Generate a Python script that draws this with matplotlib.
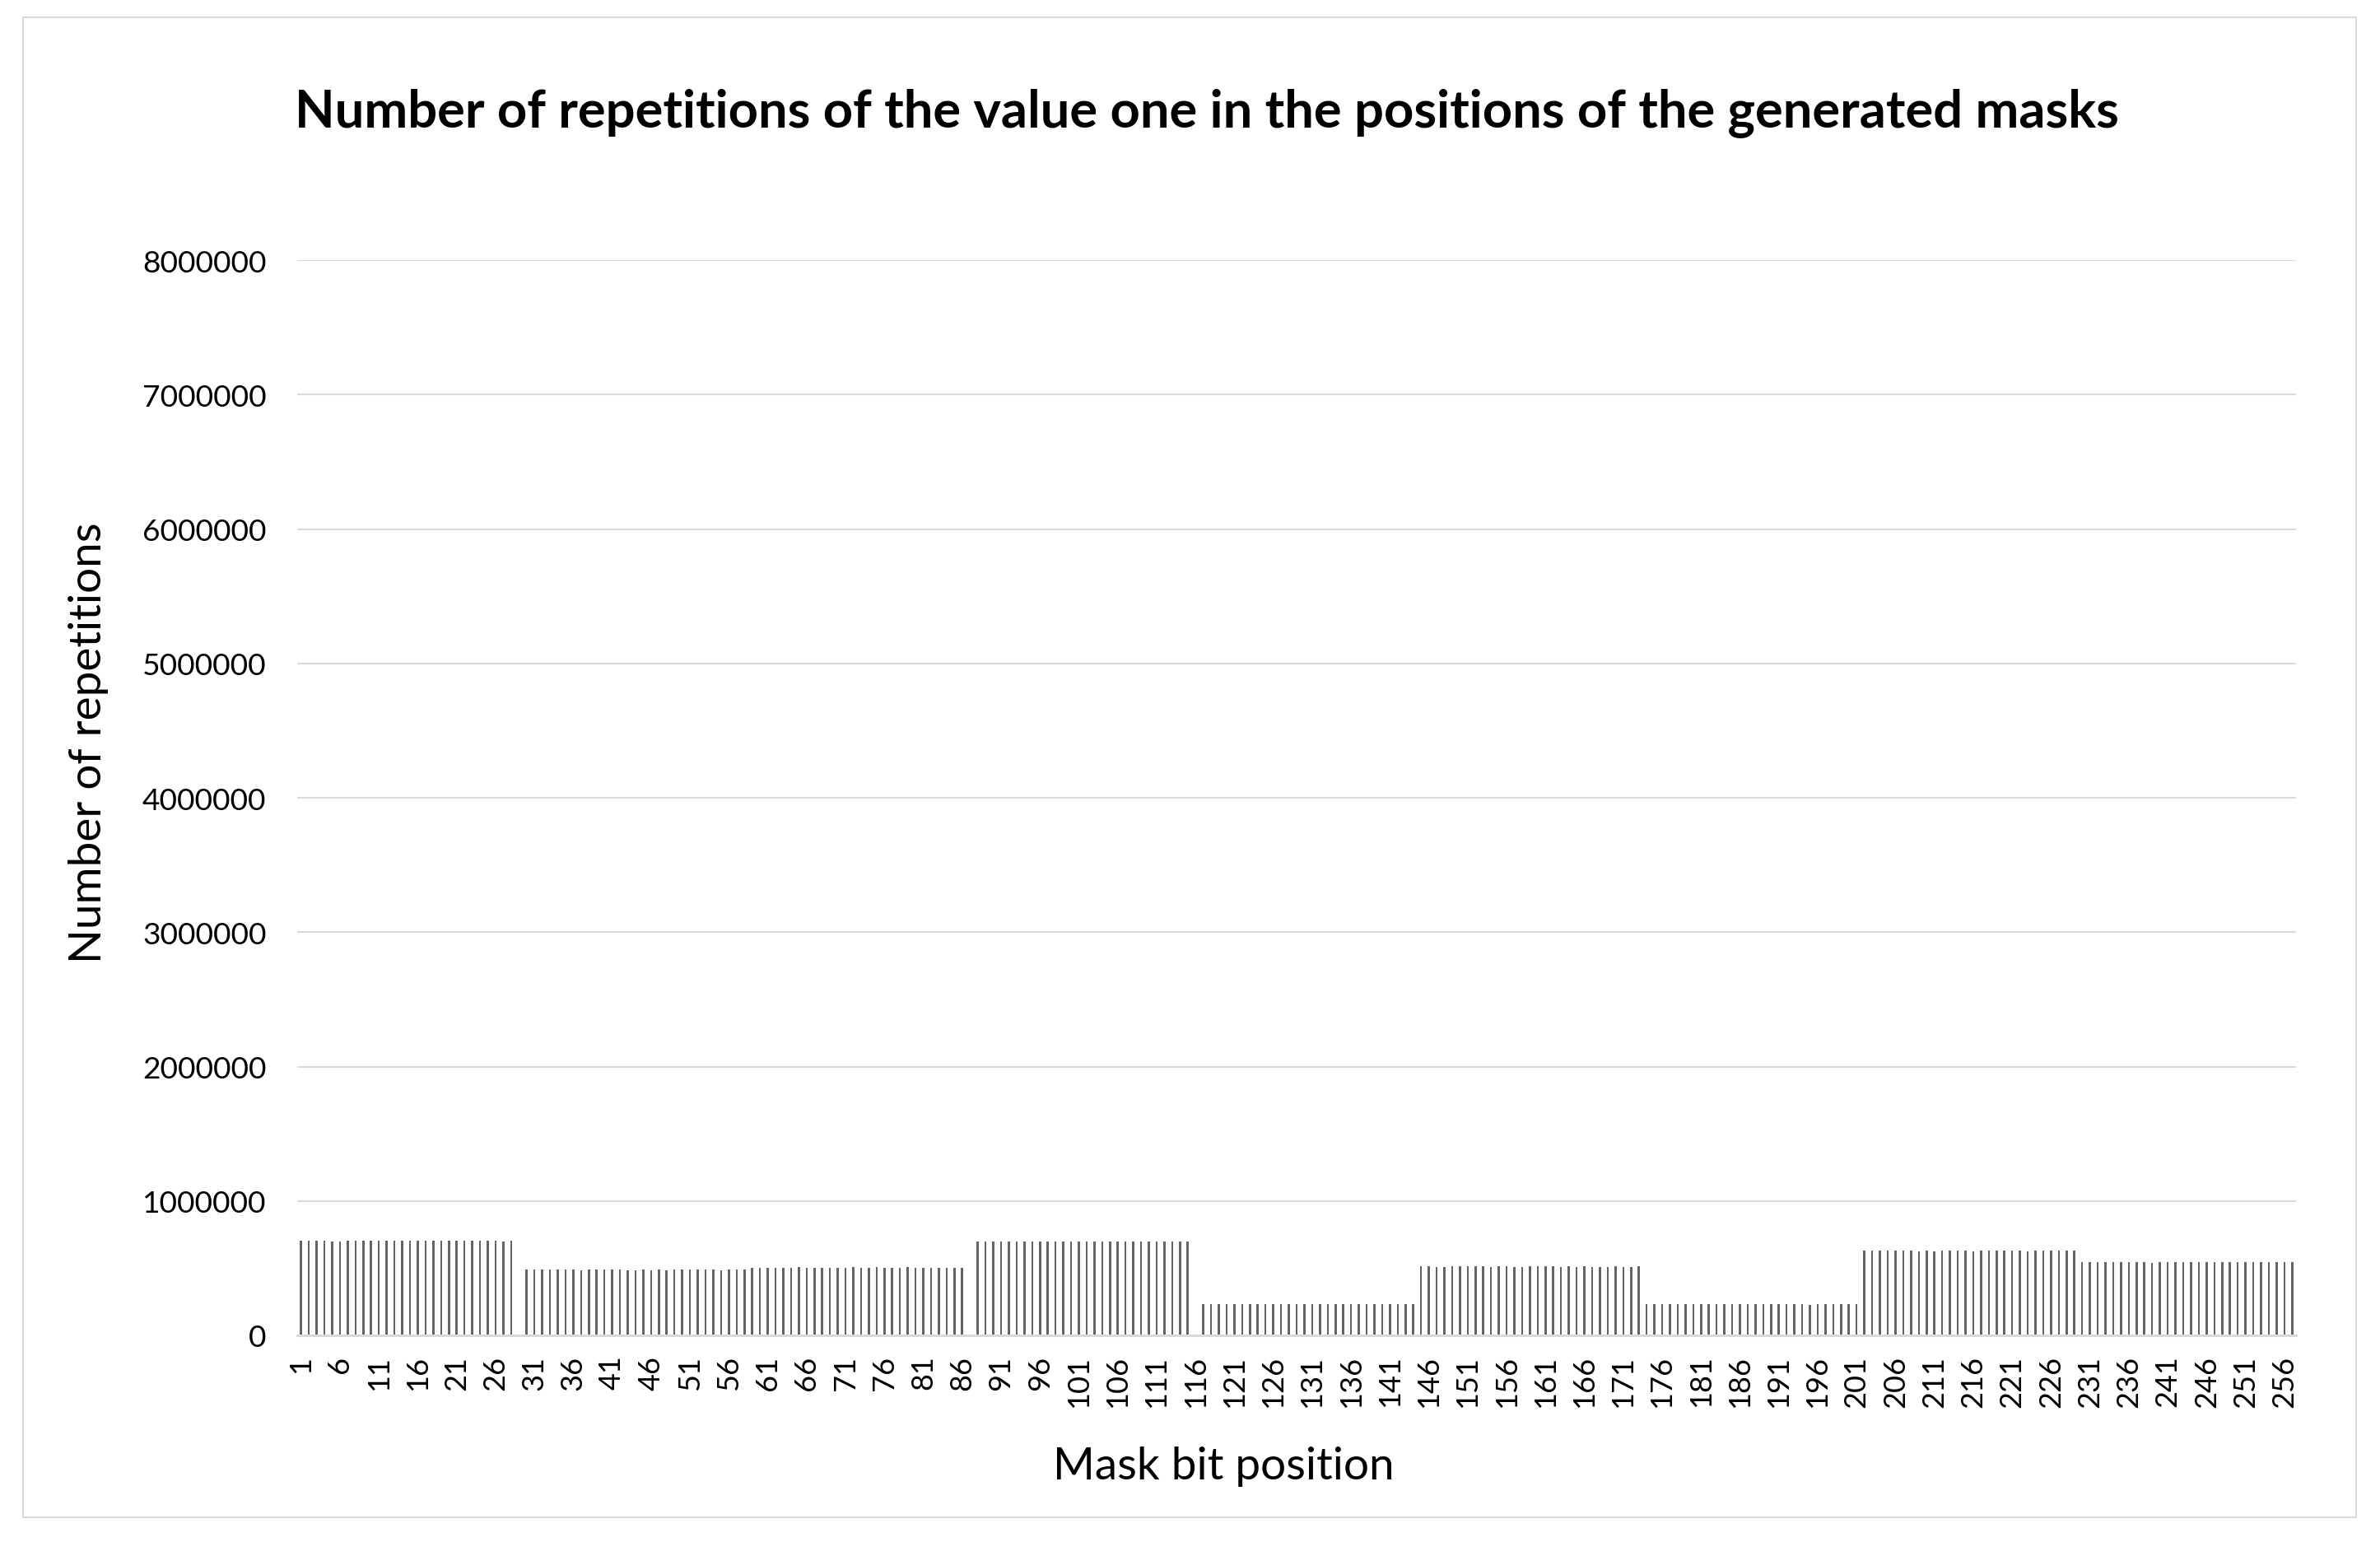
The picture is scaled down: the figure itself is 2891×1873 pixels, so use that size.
import matplotlib
matplotlib.use("Agg")
import matplotlib.pyplot as plt
from matplotlib.patches import Rectangle
import numpy as np

# ---- data ----
positions = list(range(1, 258))

vals_1_28 = [704000, 704000, 704000, 704000, 700000, 700000, 704000, 704000, 704000, 704000,
             704000, 704000, 704000, 704000, 704000, 704000, 704000, 704000, 704000, 704000,
             704000, 704000, 704000, 704000, 704000, 704000, 700000, 704000]
vals_29 = [0]
vals_30_58 = [490000, 490000, 490000, 490000, 490000, 490000, 490000, 484000, 490000, 490000,
              490000, 490000, 490000, 484000, 484000, 490000, 484000, 490000, 484000, 490000,
              490000, 490000, 490000, 490000, 490000, 484000, 490000, 490000, 490000]
vals_59_86 = [500000, 500000, 504000, 500000, 500000, 500000, 508000, 500000, 500000, 500000,
              504000, 504000, 504000, 508000, 500000, 504000, 508000, 504000, 504000, 504000,
              508000, 504000, 504000, 504000, 504000, 504000, 504000, 504000]
vals_87 = [0]
vals_88_115 = [698000] * 28
vals_116 = [0]
vals_117_144 = [234000] * 28
vals_145_173 = [514000, 514000, 508000, 508000, 514000, 514000, 514000, 514000, 514000, 508000,
                514000, 514000, 508000, 508000, 514000, 514000, 514000, 514000, 508000, 514000,
                508000, 514000, 508000, 508000, 508000, 514000, 508000, 508000, 514000]
vals_174_201 = [234000, 234000, 234000, 234000, 234000, 234000, 234000, 234000, 234000, 234000,
                234000, 234000, 234000, 234000, 234000, 234000, 234000, 234000, 234000, 234000,
                234000, 228000, 234000, 234000, 234000, 234000, 234000, 234000]
vals_202_229 = [631000, 631000, 631000, 631000, 631000, 631000, 631000, 625000, 631000, 625000,
                631000, 631000, 631000, 631000, 625000, 631000, 631000, 631000, 631000, 631000,
                631000, 625000, 631000, 631000, 631000, 631000, 631000, 631000]
vals_230_257 = [547000, 547000, 547000, 547000, 547000, 547000, 547000, 547000, 547000, 541000,
                547000, 547000, 547000, 547000, 547000, 547000, 547000, 547000, 547000, 547000,
                547000, 547000, 547000, 547000, 547000, 547000, 547000, 547000]

values = (vals_1_28 + vals_29 + vals_30_58 + vals_59_86 + vals_87 + vals_88_115 + vals_116
          + vals_117_144 + vals_145_173 + vals_174_201 + vals_202_229 + vals_230_257)

y_ticks = [0, 1000000, 2000000, 3000000, 4000000, 5000000, 6000000, 7000000, 8000000]
x_tick_positions = list(range(1, 258, 5))

title = "Number of repetitions of the value one in the positions of the generated masks"
x_label = "Mask bit position"
y_label = "Number of repetitions"

# ---- figure ----
FONT = "Lato"
W, H = 2891, 1874
fig = plt.figure(figsize=(W / 100, H / 100), dpi=100)

left, right, bottom_px, top_px = 361, 2789, 1623, 317
ax = fig.add_axes([left / W, 1 - bottom_px / H, (right - left) / W, (bottom_px - top_px) / H])

ax.bar(positions, values, width=0.27, color="#646464", linewidth=0, zorder=3)

ax.set_xlim(0.5, 257.5)
ax.set_ylim(0, 8000000)
ax.set_yticks(y_ticks)
ax.set_yticklabels([str(v) for v in y_ticks], fontsize=26.7, family=FONT)
ax.set_xticks(x_tick_positions)
ax.set_xticklabels([str(v) for v in x_tick_positions], fontsize=26, family=FONT, rotation=90)
ax.tick_params(axis="y", length=0, pad=27)
ax.tick_params(axis="x", length=0, pad=17)

ax.grid(axis="y", color="#d9d9d9", linewidth=1.5, zorder=0)
ax.set_axisbelow(True)
for s in ["top", "right", "left"]:
    ax.spines[s].set_visible(False)
ax.spines["bottom"].set_color("#d9d9d9")
ax.spines["bottom"].set_linewidth(2.2)
ax.spines["bottom"].set_zorder(4)

fig.text(1466 / W, 1 - 137 / H, title, ha="center", va="center",
         fontsize=45.5, fontweight="bold", family=FONT)
fig.text(1486 / W, 1 - 1782 / H, x_label, ha="center", va="center",
         fontsize=39.5, family=FONT)
fig.text(107 / W, 1 - 902 / H, y_label, ha="center", va="center",
         fontsize=39.5, family=FONT, rotation=90)

border = Rectangle((28 / W, 1 - 1844 / H), (2862 - 28) / W, (1844 - 22) / H,
                   transform=fig.transFigure, fill=False, edgecolor="#d9d9d9", linewidth=1.5)
fig.patches.append(border)

fig.savefig("out.png", dpi=100, facecolor="white")
